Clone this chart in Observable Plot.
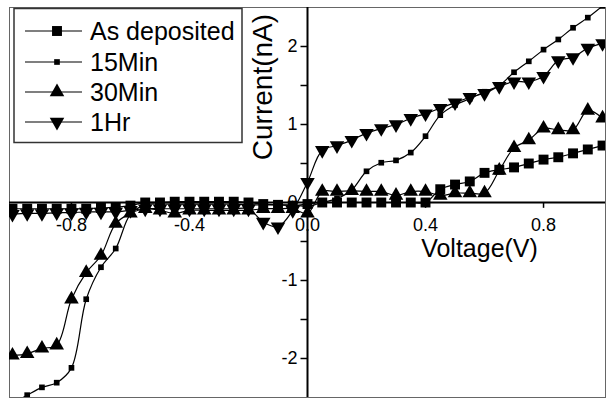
<!DOCTYPE html>
<html>
<head>
<meta charset="utf-8">
<script src="https://cdn.jsdelivr.net/npm/d3@7"></script>
<script src="https://cdn.jsdelivr.net/npm/@observablehq/plot@0.6"></script>
<style>
  html, body { margin: 0; padding: 0; background: #fff; }
  #wrap { position: relative; width: 607px; height: 398px; }
  #wrap svg { font-family: "Liberation Sans", Arial, sans-serif; }
  #legend { position: absolute; left: 0; top: 0; }
</style>
</head>
<body>
<div id="wrap"></div>
<script>
// ---- data ----
const voltage = [-1.00,-0.95,-0.90,-0.85,-0.80,-0.75,-0.70,-0.65,-0.60,-0.55,-0.50,-0.45,-0.40,-0.35,-0.30,-0.25,-0.20,-0.15,-0.10,-0.05,
                  0.00, 0.05, 0.10, 0.15, 0.20, 0.25, 0.30, 0.35, 0.40, 0.45, 0.50, 0.55, 0.60, 0.65, 0.70, 0.75, 0.80, 0.85, 0.90, 0.95, 1.00];
const asDeposited = [-0.08,-0.08,-0.08,-0.08,-0.08,-0.08,-0.07,-0.06,-0.04,0.00,0.00,0.01,0.01,0.01,0.01,0.01,0.00,-0.02,-0.03,-0.04,
                     -0.02,0.00,0.00,0.00,0.00,0.00,0.00,0.00,0.00,0.17,0.23,0.27,0.38,0.42,0.45,0.50,0.55,0.58,0.63,0.68,0.73];
const min15 = [-2.58,-2.47,-2.37,-2.31,-2.12,-1.24,-0.83,-0.59,-0.15,-0.03,-0.02,-0.02,-0.02,-0.02,-0.02,-0.02,-0.03,-0.03,-0.03,-0.03,
               -0.05,0.00,0.05,0.16,0.40,0.51,0.54,0.64,0.85,1.12,1.25,1.33,1.42,1.50,1.67,1.81,1.96,2.09,2.24,2.37,2.52];
const min30 = [-1.96,-1.94,-1.87,-1.83,-1.24,-0.90,-0.68,-0.27,-0.14,-0.08,-0.10,-0.14,-0.10,-0.10,-0.10,-0.10,-0.10,-0.08,-0.08,-0.08,
               -0.14,0.14,0.14,0.15,0.14,0.14,0.09,0.14,0.14,0.09,0.12,0.12,0.12,0.41,0.70,0.80,0.95,0.93,0.93,1.18,1.08];
const hr1 = [-0.15,-0.14,-0.14,-0.13,-0.13,-0.12,-0.12,-0.12,-0.10,-0.08,-0.08,-0.08,-0.08,-0.08,-0.08,-0.08,-0.08,-0.25,-0.31,-0.10,
             0.26,0.67,0.73,0.80,0.89,0.95,1.00,1.08,1.14,1.21,1.28,1.35,1.40,1.49,1.55,1.55,1.62,1.82,1.86,1.98,2.04];

const seriesNames = ["As deposited", "15Min", "30Min", "1Hr"];
const seriesValues = [asDeposited, min15, min30, hr1];

const xTicks = [-0.8, -0.4, 0.0, 0.4, 0.8];
const xTickLabels = ["-0.8", "-0.4", "0.0", "0.4", "0.8"];
const yTicks = [-2, -1.5, -1, -0.5, 0.5, 1, 1.5, 2];
const yTickLabelValues = [-2, -1, 0, 1, 2];
const yTickLabels = ["-2", "-1", "0", "1", "2"];
const xLabel = "Voltage(V)";
const yLabel = "Current(nA)";

// ---- symbols ----
const sqrt3 = Math.sqrt(3);
const triangleDown = {
  draw(context, size) {
    const y = -Math.sqrt(size / (sqrt3 * 3));
    context.moveTo(0, -y * 2);
    context.lineTo(-sqrt3 * y, y);
    context.lineTo(sqrt3 * y, y);
    context.closePath();
  }
};
const styles = [
  {symbol: "square", r: 5.6},
  {symbol: "square", r: 3.2},
  {symbol: "triangle", r: 5.4},
  {symbol: triangleDown, r: 5.4}
];

const rows = seriesNames.map((name, i) =>
  voltage.map((v, j) => ({series: name, v, c: seriesValues[i][j]})));

const marks = [
  Plot.frame({stroke: "#666", strokeWidth: 1}),
  Plot.ruleY([0], {stroke: "#000", strokeWidth: 2}),
  Plot.ruleX([0], {stroke: "#000", strokeWidth: 2}),
  Plot.ruleX(xTicks, {x: d => d, y1: 0, y2: -0.075, stroke: "#000", strokeWidth: 1.5}),
  Plot.ruleY(yTicks, {y: d => d, x1: 0, x2: -0.022, stroke: "#000", strokeWidth: 1.5}),
  Plot.text(xTicks, {x: d => d, y: 0, text: (d, i) => xTickLabels[i], dy: 23, fontSize: 18, fill: "#000"}),
  Plot.text(yTickLabelValues, {x: 0, y: d => d, text: (d, i) => yTickLabels[i], dx: -10, textAnchor: "end", fontSize: 18, fill: "#000"}),
];
rows.forEach((data, i) => {
  marks.push(Plot.line(data, {x: "v", y: "c", curve: "catmull-rom", stroke: "#000", strokeWidth: 1.2, clip: true}));
  marks.push(Plot.dot(data, {x: "v", y: "c", symbol: styles[i].symbol, r: styles[i].r, fill: "#000", stroke: "none", clip: true}));
});
marks.push(Plot.text([xLabel], {x: 0.583, y: -0.59, text: d => d, fontSize: 25, fill: "#000"}));
marks.push(Plot.text([yLabel], {x: -0.15, y: 1.48, text: d => d, rotate: -90, fontSize: 28, fill: "#000"}));

const chart = Plot.plot({
  width: 607,
  height: 398,
  marginTop: 7,
  marginBottom: 1,
  marginLeft: 9,
  marginRight: 2,
  x: {domain: [-1.01, 1.01], axis: null},
  y: {domain: [-2.5, 2.5], axis: null},
  style: {background: "#fff", overflow: "visible"},
  marks
});
document.getElementById("wrap").appendChild(chart);

// ---- legend overlay ----
const legend = d3.select("#wrap").append("svg")
  .attr("id", "legend").attr("width", 250).attr("height", 150)
  .style("font-family", '"Liberation Sans", Arial, sans-serif');
legend.append("rect").attr("x", 14).attr("y", 8.5).attr("width", 228).attr("height", 134)
  .attr("fill", "#fff").attr("stroke", "#333").attr("stroke-width", 1.5);
const rowY = [31, 62, 92, 122];
seriesNames.forEach((name, i) => {
  const g = legend.append("g").attr("transform", `translate(0,${rowY[i]})`);
  g.append("line").attr("x1", 25).attr("x2", 82).attr("y1", 0).attr("y2", 0).attr("stroke", "#000").attr("stroke-width", 1.2);
  const s = styles[i];
  const sym = typeof s.symbol === "string" ? (s.symbol === "square" ? d3.symbolSquare : d3.symbolTriangle) : s.symbol;
  g.append("path").attr("transform", "translate(57,0)")
    .attr("d", d3.symbol(sym, Math.PI * s.r * s.r)()).attr("fill", "#000");
  g.append("text").attr("x", 90).attr("y", 0).attr("dy", "0.35em").attr("font-size", 25).attr("fill", "#000").text(name);
});
</script>
</body>
</html>
